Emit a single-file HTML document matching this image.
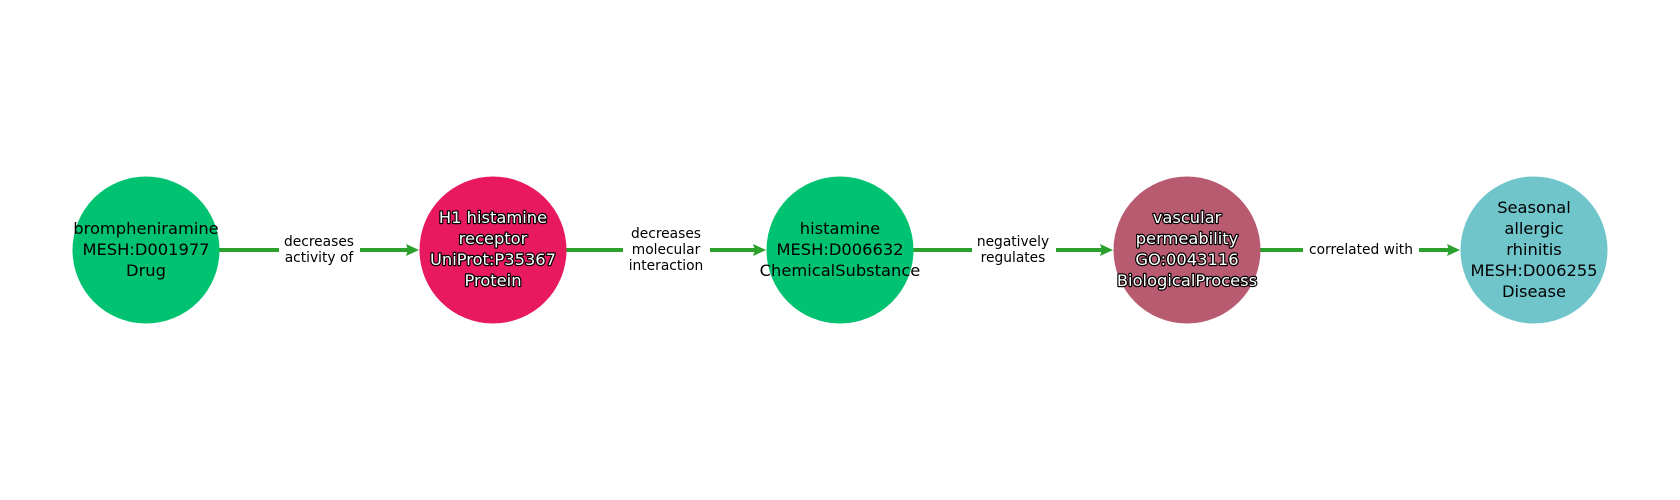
<!DOCTYPE html>
<html><head><meta charset="utf-8"><style>
html,body{margin:0;padding:0;background:#fff;}
svg{display:block;}
text{font-family:"DejaVu Sans","Liberation Sans",sans-serif;}
.n{font-size:16.3px;text-anchor:middle;fill:#000;}
.w{font-size:16.3px;text-anchor:middle;fill:#fff;stroke:#000;stroke-width:2.4px;paint-order:stroke;stroke-linejoin:round;}
.e{font-size:13.8px;text-anchor:middle;fill:#000;}
</style></head><body>
<svg width="1680" height="500" viewBox="0 0 1680 500" xmlns="http://www.w3.org/2000/svg">
<g stroke="#2ca02c" stroke-width="4" fill="none">
<line x1="219" y1="250" x2="410" y2="250"/>
<line x1="566" y1="250" x2="757" y2="250"/>
<line x1="913" y1="250" x2="1104" y2="250"/>
<line x1="1260" y1="250" x2="1451" y2="250"/>
</g>
<g fill="#2ca02c">
<polygon points="419,250 406,244 408,250 406,256"/>
<polygon points="766,250 753,244 755,250 753,256"/>
<polygon points="1113,250 1100,244 1102,250 1100,256"/>
<polygon points="1460,250 1447,244 1449,250 1447,256"/>
</g>
<g fill="#fff">
<rect x="279" y="230" width="81" height="38"/>
<rect x="623" y="222" width="87" height="54"/>
<rect x="972" y="230" width="84" height="38"/>
<rect x="1303" y="240" width="116" height="20"/>
</g>
<circle cx="146" cy="250" r="73.5" fill="#00c270"/>
<circle cx="493" cy="250" r="73.5" fill="#e8195f"/>
<circle cx="840" cy="250" r="73.5" fill="#00c270"/>
<circle cx="1187" cy="250" r="73.5" fill="#b85b70"/>
<circle cx="1534" cy="250" r="73.5" fill="#70c5cb"/>
<text class="n" x="146" y="234">brompheniramine</text>
<text class="n" x="146" y="255">MESH:D001977</text>
<text class="n" x="146" y="276">Drug</text>
<text class="w" x="493" y="223">H1 histamine</text>
<text class="w" x="493" y="244">receptor</text>
<text class="w" x="493" y="265">UniProt:P35367</text>
<text class="w" x="493" y="286">Protein</text>
<text class="n" x="840" y="234">histamine</text>
<text class="n" x="840" y="255">MESH:D006632</text>
<text class="n" x="840" y="276">ChemicalSubstance</text>
<text class="w" x="1187" y="223">vascular</text>
<text class="w" x="1187" y="244">permeability</text>
<text class="w" x="1187" y="265">GO:0043116</text>
<text class="w" x="1187" y="286">BiologicalProcess</text>
<text class="n" x="1534" y="213">Seasonal</text>
<text class="n" x="1534" y="234">allergic</text>
<text class="n" x="1534" y="255">rhinitis</text>
<text class="n" x="1534" y="276">MESH:D006255</text>
<text class="n" x="1534" y="297">Disease</text>
<text class="e" x="319" y="246">decreases</text>
<text class="e" x="319" y="262">activity of</text>
<text class="e" x="666" y="238">decreases</text>
<text class="e" x="666" y="254">molecular</text>
<text class="e" x="666" y="270">interaction</text>
<text class="e" x="1013" y="246">negatively</text>
<text class="e" x="1013" y="262">regulates</text>
<text class="e" x="1361" y="254">correlated with</text>
</svg>
</body></html>
